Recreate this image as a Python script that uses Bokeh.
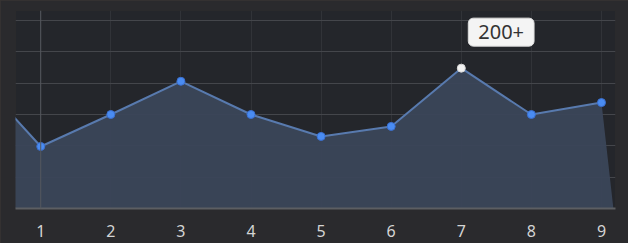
from bokeh.plotting import figure
from bokeh.models import Range1d, FixedTicker, Span, Label
from bokeh.embed import file_html
from bokeh.resources import INLINE

# data
days = [1, 2, 3, 4, 5, 6, 7, 8, 9]
values = [99, 150, 203, 150, 115, 131, 224, 150, 169]
tick_labels = ["1", "2", "3", "4", "5", "6", "7", "8", "9"]
# series continues beyond the visible window
lead_x, lead_val = 0, 222
tail_x, tail_val = 9.17, 0
highlight_index = 6
highlight_text = "200+"

area_x = [lead_x] + days + [tail_x]
area_y = [lead_val] + values + [tail_val]
line_x = [lead_x] + days
line_y = [lead_val] + values

p = figure(width=628, height=243, output_backend="svg", toolbar_location=None,
           x_range=Range1d(0.64, 9.2), y_range=Range1d(0, 316),
           min_border_left=15, min_border_right=13, min_border_top=10, min_border_bottom=35)
p.background_fill_color = "#24262b"
p.border_fill_color = "#2a2a2d"
p.outline_line_color = None

p.varea(x=area_x, y1=0, y2=area_y, fill_color="#3b4659", fill_alpha=0.95)
p.line(line_x, line_y, line_color="#587aae", line_width=2)

p.ygrid.ticker = FixedTicker(ticks=[50, 100, 150, 200, 250, 300])
p.ygrid.grid_line_color = "#44464b"
p.ygrid.grid_line_width = 1
p.xgrid.ticker = FixedTicker(ticks=days)
p.xgrid.grid_line_color = "#3a3c41"
p.xgrid.grid_line_alpha = 0.6
p.add_layout(Span(location=days[0], dimension="height", line_color="#55585e", line_width=1))

others_x = [d for i, d in enumerate(days) if i != highlight_index]
others_y = [v for i, v in enumerate(values) if i != highlight_index]
p.scatter(others_x, others_y, size=8, fill_color="#4a8cf2", line_color="#3a6fd0", line_width=1)
p.scatter([days[highlight_index]], [values[highlight_index]], size=8, fill_color="#f2f2f2", line_color="#d8d8d8")

p.add_layout(Label(x=days[highlight_index], y=values[highlight_index], text=highlight_text,
                   x_offset=7, y_offset=22, text_font="Noto Sans", text_font_size="20px",
                   text_color="#333333", background_fill_color="#f4f4f4",
                   border_line_color="#dddddd", border_radius=5,
                   padding=(10, 7), text_baseline="bottom"))

p.yaxis.visible = False
p.xaxis.ticker = FixedTicker(ticks=days)
p.xaxis.major_label_overrides = {d: t for d, t in zip(days, tick_labels)}
p.xaxis.axis_line_color = "#5c5e62"
p.xaxis.axis_line_width = 2
p.xaxis.major_tick_line_color = None
p.xaxis.minor_tick_line_color = None
p.xaxis.major_label_standoff = 10
p.xaxis.major_label_text_font = "Noto Sans"
p.xaxis.major_label_text_font_size = "16px"
p.xaxis.major_label_text_color = "#d4d4d4"

html = file_html(p, INLINE)
html = html.replace("</head>", "<style>body{background:#383533;}</style></head>", 1)
open("out.html", "w").write(html)
